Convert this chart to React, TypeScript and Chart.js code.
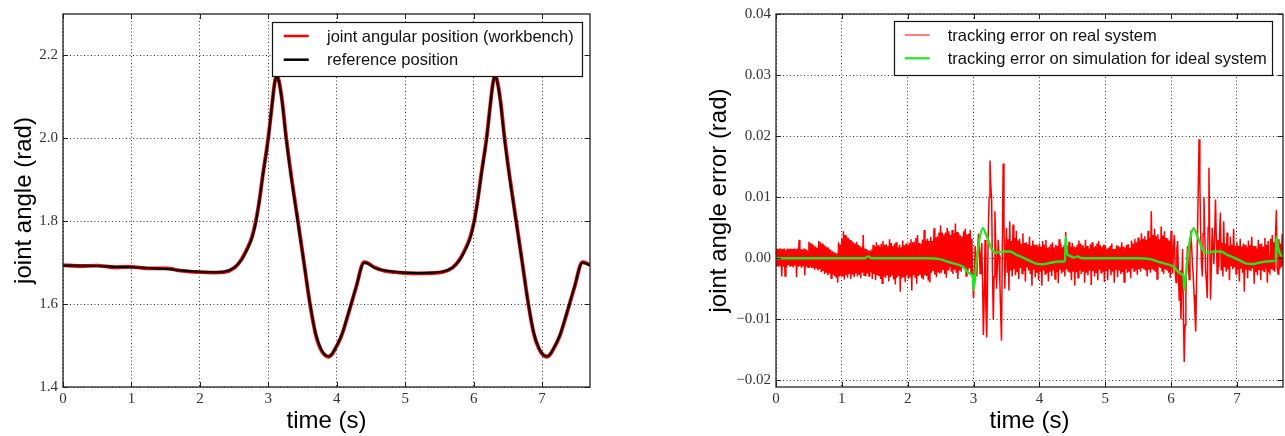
import React, { useEffect, useRef } from 'react';
import { Chart, registerables } from 'chart.js';

Chart.register(...registerables);

// ---------------- Left panel data: joint angle (rad) vs time (s) ----------------
const posTime = [
  0.0, 0.25, 0.5, 0.75, 1.0, 1.25, 1.5, 1.75, 2.0, 2.2, 2.35, 2.5, 2.6, 2.7, 2.76, 2.82, 2.87, 2.92, 3.0, 3.06,
  3.09, 3.12, 3.15, 3.2, 3.26, 3.34, 3.43, 3.52, 3.61, 3.69, 3.76, 3.82, 3.88, 3.93, 4.0, 4.07, 4.17, 4.28, 4.4, 4.45,
  4.55, 4.7, 4.85, 5.0, 5.2, 5.4, 5.54, 5.69, 5.79, 5.89, 5.95, 6.01, 6.06, 6.11, 6.19, 6.25, 6.28, 6.31, 6.34, 6.39,
  6.45, 6.53, 6.62, 6.71, 6.8, 6.88, 6.95, 7.01, 7.07, 7.12, 7.19, 7.26, 7.36, 7.47, 7.59, 7.64, 7.7,
];
const posReference = [
  1.693, 1.6925, 1.692, 1.69, 1.689, 1.687, 1.685, 1.681, 1.678, 1.677, 1.678, 1.688, 1.705, 1.735, 1.76, 1.8, 1.85, 1.91, 2.0, 2.09,
  2.13, 2.15, 2.14, 2.09, 2.0, 1.9, 1.8, 1.7, 1.6, 1.53, 1.495, 1.479, 1.474, 1.48, 1.5, 1.525, 1.578, 1.64, 1.7, 1.698,
  1.688, 1.681, 1.678, 1.676, 1.675, 1.676, 1.678, 1.688, 1.705, 1.735, 1.76, 1.8, 1.85, 1.91, 2.0, 2.09, 2.13, 2.15, 2.14, 2.09,
  2.0, 1.9, 1.8, 1.7, 1.6, 1.53, 1.495, 1.479, 1.474, 1.48, 1.5, 1.525, 1.578, 1.64, 1.7, 1.698, 1.693,
];
const posWorkbench = [
  1.694, 1.692, 1.693, 1.689, 1.69, 1.686, 1.686, 1.68, 1.677, 1.676, 1.677, 1.687, 1.706, 1.737, 1.761, 1.802, 1.851, 1.912, 2.002, 2.089,
  2.131, 2.151, 2.142, 2.093, 2.004, 1.903, 1.803, 1.701, 1.599, 1.528, 1.493, 1.478, 1.473, 1.479, 1.499, 1.524, 1.577, 1.639, 1.701, 1.699,
  1.689, 1.68, 1.677, 1.675, 1.674, 1.675, 1.677, 1.688, 1.706, 1.737, 1.762, 1.802, 1.852, 1.912, 2.002, 2.091, 2.131, 2.151, 2.142, 2.093,
  2.004, 1.903, 1.802, 1.701, 1.599, 1.528, 1.494, 1.478, 1.473, 1.479, 1.499, 1.524, 1.577, 1.639, 1.701, 1.699, 1.694,
];

// ---------------- Right panel data: tracking errors ----------------
const realErrorStep = 0.0125; // sampling period of the listed samples (s)
// tracking error on real system, in mrad (1e-3 rad), one row = 0.25 s
const realErrorMrad = [
  1.6, -1.3, 1.5, -1.4, 1.6, -1.2, 1.6, -3.0, 1.5, -1.4, 1.6, -2.9, 1.4, -1.5, 1.6, -1.1, 1.5, -1.4, 1.6, -1.3,
  1.5, -1.5, 1.6, -1.2, 1.5, -3.1, 1.6, -1.4, 3.0, -1.3, 1.5, -1.6, 1.4, -1.2, 1.6, -2.8, 1.5, -1.4, 1.3, -1.5,
  2.7, -1.4, 2.5, -1.6, 2.3, -1.5, 2.1, -1.9, 1.9, -1.7, 1.7, -2.0, 2.8, -1.8, 2.6, -2.3, 2.4, -2.1, 2.2, -2.6,
  2.0, -2.4, 1.8, -2.8, 1.6, -2.5, 1.4, -3.3, 1.2, -2.7, 1.0, -2.9, 0.9, -3.1, 0.8, -4.0, 2.6, -3.0, 2.3, -2.8,
  3.2, -3.0, 4.4, -3.5, 3.8, -2.8, 3.5, -3.2, 3.3, -2.6, 3.0, -3.4, 2.8, -2.7, 2.6, -3.1, 2.4, -2.5, 2.7, -3.0,
  2.2, -2.6, 2.0, -3.3, 1.8, -2.4, 3.8, -2.8, 1.6, -3.0, 1.5, -2.5, 1.3, -2.9, 1.2, -2.3, 1.4, -3.4, 2.2, -2.6,
  1.9, -3.6, 2.6, -2.8, 2.1, -2.9, 1.9, -3.4, 2.4, -4.1, 2.8, -3.0, 2.2, -3.2, 2.3, -2.7, 2.0, -3.8, 3.1, -3.1,
  2.5, -2.7, 2.0, -3.5, 2.4, -4.3, 2.6, -3.2, 1.8, -2.9, 2.2, -5.5, 1.8, -3.3, 2.9, -3.1, 2.1, -3.9, 2.4, -2.8,
  2.2, -3.4, 2.5, -3.0, 3.1, -5.3, 2.6, -2.8, 2.7, -3.1, 3.3, -4.2, 3.8, -2.9, 2.5, -2.6, 2.4, -3.3, 3.0, -3.5,
  4.6, -2.8, 2.9, -2.9, 3.2, -3.7, 2.8, -4.0, 3.5, -2.4, 2.8, -2.1, 4.9, -2.7, 3.4, -3.1, 3.6, -2.2, 4.2, -2.5,
  5.4, -2.4, 4.2, -1.8, 3.9, -2.6, 4.2, -3.2, 5.0, -1.9, 4.4, -1.5, 3.8, -2.2, 4.6, -2.6, 4.1, -1.9, 5.7, -2.4,
  4.3, -3.4, 4.1, -2.0, 3.7, -2.2, 3.5, -1.6, 4.4, -1.8, 4.8, -2.9, 3.9, -2.1, 4.0, -1.7, 4.6, -2.5, 3.2, -3.5,
  -6.5, -3.0, 2.0, -1.5, -3.0, 1.0, 4.0, 1.5, -2.5, 0.5, 2.5, -4.0, -12.6, -6.0, 3.0, -8.0, -13.0, -4.0, 5.0, 10.0,
  16.0, 12.0, 9.5, -2.0, -10.0, -3.0, 7.7, 2.0, -5.0, -1.0, 3.0, 0.5, -4.0, -9.0, -13.5, 2.0, 15.5, 6.0, -5.0, 1.0,
  5.0, -2.4, 3.1, -5.3, 6.0, -2.0, 2.8, -3.0, 5.5, -1.8, 3.3, -2.8, 4.5, -2.2, 2.9, -3.4, 3.2, -1.6, 2.4, -2.5,
  4.1, -2.1, 2.5, -3.8, 2.6, -1.4, 2.3, -2.0, 3.5, -2.6, 2.0, -4.5, 2.9, -1.9, 2.2, -3.1, 2.2, -2.4, 1.9, -3.6,
  2.4, -2.2, 1.9, -4.5, 2.8, -2.0, 2.2, -2.6, 3.0, -2.4, 1.7, -3.8, 1.9, -2.1, 2.3, -2.9, 2.6, -2.0, 1.8, -3.4,
  2.2, -2.3, 2.0, -4.1, 3.1, -1.9, 2.4, -2.5, 1.8, -2.2, 2.1, -3.0, 4.3, -1.8, 2.0, -2.2, 2.7, -2.4, 1.9, -3.6,
  2.5, -2.1, 1.9, -4.5, 1.8, -2.3, 2.2, -3.2, 2.9, -2.0, 2.4, -2.6, 2.1, -2.2, 1.7, -4.0, 3.0, -2.4, 2.0, -2.8,
  1.6, -2.0, 2.3, -4.4, 2.6, -2.1, 1.8, -3.0, 2.0, -2.3, 2.4, -3.6, 2.8, -1.9, 2.1, -2.4, 1.9, -2.2, 2.2, -3.9,
  2.2, -2.0, 1.6, -3.6, 1.7, -1.8, 2.0, -2.8, 2.4, -2.2, 1.5, -4.0, 1.5, -1.9, 2.1, -3.1, 2.0, -2.0, 1.8, -2.6,
  2.6, -2.3, 1.9, -3.9, 1.8, -1.8, 2.2, -2.4, 2.3, -2.1, 1.7, -3.3, 2.9, -1.7, 2.4, -2.1, 3.2, -1.9, 2.6, -2.7,
  3.4, -1.8, 2.9, -2.2, 4.1, -1.6, 3.2, -1.8, 3.6, -2.0, 3.0, -3.0, 4.5, -1.9, 3.4, -2.4, 7.7, -1.7, 3.8, -2.0,
  4.8, -2.2, 3.6, -3.4, 3.9, -1.5, 3.1, -1.6, 5.2, -2.1, 3.7, -2.6, 4.4, -1.8, 3.3, -2.0, 3.1, -2.4, 2.9, -3.2,
  4.5, -1.5, -2.5, 2.0, 3.8, -2.0, -4.0, 1.5, 2.8, -3.0, -7.0, -2.0, -10.0, -4.0, 1.5, -9.0, -17.0, -11.0, -6.0, -1.0,
  2.0, -1.0, -3.5, 1.0, 4.5, 2.0, -1.0, -3.0, -6.0, -9.0, -12.0, -4.0, 3.0, 11.0, 19.5, 12.0, 4.0, -1.0, -3.0, 4.0,
  10.0, 4.0, -2.0, -4.0, -6.5, 5.0, 14.8, 3.0, -6.8, -1.0, 5.0, 2.0, -1.0, 4.0, 9.6, 3.0, -2.5, 3.0, -1.5, 4.0,
  7.5, -2.0, 2.5, -3.0, 6.0, -1.5, 2.4, -2.2, 4.2, -1.8, 2.0, -3.6, 3.5, -1.2, 2.2, -1.8, 4.8, -1.5, 2.0, -2.6,
  2.6, -1.8, 2.0, -3.8, 3.2, -1.6, 1.9, -2.4, 2.4, -5.5, 2.2, -1.9, 1.8, -3.3, 2.9, -2.0, 2.1, -2.1, 3.5, -1.7,
  2.0, -4.2, 2.0, -2.3, 1.6, -2.8, 3.0, -1.8, 2.3, -3.6, 2.4, -2.0, 1.9, -2.2, 3.3, -1.6, 2.2, -4.0, 2.8, -2.1,
  -2.4, 3.2, -1.8, 3.8, -1.9, 2.6, -2.2, 4.2, 7.9, -1.6, -2.6, 3.1, -1.8, 2.4, -1.5, 4.0, -1.2,
];
// tracking error on simulation for ideal system (time in s, error in mrad)
const simTime = [
  0.0, 1.35, 1.4, 1.45, 2.3, 2.5, 2.64, 2.84, 2.94, 2.99, 3.0, 3.04, 3.08, 3.14, 3.21, 3.28, 3.34, 3.45, 3.55, 3.66,
  3.75, 3.85, 3.95, 4.05, 4.15, 4.3, 4.39, 4.4, 4.42, 4.46, 4.52, 4.58, 4.64, 5.5, 5.7, 5.84, 6.04, 6.14, 6.19, 6.2,
  6.24, 6.28, 6.34, 6.41, 6.48, 6.54, 6.65, 6.75, 6.86, 6.95, 7.05, 7.15, 7.25, 7.35, 7.5, 7.59, 7.6, 7.62, 7.66, 7.7,
];
const simErrorMrad = [
  0.0, 0.0, 0.3, 0.0, 0.0, -0.2, -0.7, -1.4, -2.5, -3.0, -5.2, -1.0, 2.5, 4.9, 3.3, 1.4, 0.9, 1.1, 1.1, 0.5,
  0.1, -0.4, -0.9, -1.0, -0.8, -0.55, -0.5, 3.5, 0.8, 0.4, 0.1, 0.3, 0.0, 0.0, -0.2, -0.7, -1.4, -2.5, -3.0, -5.2,
  -1.0, 2.5, 4.9, 3.3, 1.4, 0.9, 1.1, 1.1, 0.5, 0.1, -0.4, -0.9, -0.95, -0.7, -0.5, -0.45, 3.5, 2.0, 0.6, 0.3,
];

// ---------------- Axes ----------------
const xTicks = [0, 1, 2, 3, 4, 5, 6, 7];
const yTicksLeft = [1.4, 1.6, 1.8, 2.0, 2.2];
const yTicksRight = [-0.02, -0.01, 0.0, 0.01, 0.02, 0.03, 0.04];

const SANS = '"Liberation Sans", Arial, Helvetica, sans-serif';
const SERIF = '"Liberation Serif", "DejaVu Serif", serif';

const framePlugin = {
  id: 'frame',
  afterDatasetsDraw(chart: any) {
    const { ctx, chartArea: a, scales } = chart;
    const L = 5;
    ctx.save();
    ctx.strokeStyle = '#222';
    ctx.lineWidth = 1;
    ctx.beginPath();
    scales.x.ticks.forEach((t: any) => {
      const px = Math.round(scales.x.getPixelForValue(t.value)) + 0.5;
      ctx.moveTo(px, a.bottom);
      ctx.lineTo(px, a.bottom - L);
      ctx.moveTo(px, a.top);
      ctx.lineTo(px, a.top + L);
    });
    scales.y.ticks.forEach((t: any) => {
      const py = Math.round(scales.y.getPixelForValue(t.value)) + 0.5;
      ctx.moveTo(a.left, py);
      ctx.lineTo(a.left + L, py);
      ctx.moveTo(a.right, py);
      ctx.lineTo(a.right - L, py);
    });
    ctx.stroke();
    ctx.lineWidth = 1.3;
    ctx.strokeRect(a.left, a.top, a.right - a.left, a.bottom - a.top);
    ctx.restore();
  },
};

const boxLegend = {
  id: 'boxLegend',
  afterDraw(chart: any, _args: any, opts: any) {
    const { ctx, chartArea: a } = chart;
    const ds = chart.data.datasets;
    ctx.save();
    ctx.font = `${opts.fontSize}px ${SANS}`;
    const tw = Math.max(...ds.map((d: any) => ctx.measureText(d.label).width));
    const w = Math.round(opts.textOffset + tw + opts.padRight);
    const h = opts.height;
    const x = Math.round(a.right - opts.right - w);
    const y = Math.round(a.top + opts.top);
    ctx.fillStyle = '#fff';
    ctx.fillRect(x, y, w, h);
    ctx.strokeStyle = '#111';
    ctx.lineWidth = 1.2;
    ctx.strokeRect(x + 0.5, y + 0.5, w, h);
    ds.forEach((d: any, i: number) => {
      const yy = y + opts.firstRow + i * opts.rowGap;
      ctx.strokeStyle = d.borderColor;
      ctx.lineWidth = opts.lineWidths[i];
      ctx.beginPath();
      ctx.moveTo(x + opts.lineStart, yy);
      ctx.lineTo(x + opts.lineStart + 25, yy);
      ctx.stroke();
      ctx.fillStyle = '#111';
      ctx.textBaseline = 'middle';
      ctx.textAlign = 'left';
      ctx.fillText(d.label, x + opts.textOffset, yy + 1);
    });
    ctx.restore();
  },
};

function axes(yTicks: number[], yMin: number, yMax: number, yWidth: number, yLabel: string, yFmt: (v: number) => string, yTitlePad: number) {
  const gridCommon = { color: '#333', lineWidth: 1, drawTicks: false };
  const borderCommon = { display: false, dash: [1, 2.5] };
  return {
    x: {
      type: 'linear',
      min: 0,
      max: 7.7,
      afterBuildTicks: (s: any) => {
        s.ticks = xTicks.map((v) => ({ value: v }));
      },
      afterFit: (s: any) => {
        s.height = 49;
      },
      grid: gridCommon,
      border: borderCommon,
      ticks: {
        color: '#333',
        padding: 3,
        maxRotation: 0,
        font: { family: SERIF, size: 15 },
        callback: (v: number) => String(v),
      },
      title: {
        display: true,
        text: 'time (s)',
        color: '#000',
        font: { family: SANS, size: 24 },
        padding: { top: 0, bottom: 0.5 },
      },
    },
    y: {
      type: 'linear',
      min: yMin,
      max: yMax,
      afterBuildTicks: (s: any) => {
        s.ticks = yTicks.map((v) => ({ value: v }));
      },
      afterFit: (s: any) => {
        s.width = yWidth;
      },
      grid: gridCommon,
      border: borderCommon,
      ticks: {
        color: '#333',
        padding: 5,
        font: { family: SERIF, size: 15 },
        callback: (v: number) => yFmt(v),
      },
      title: {
        display: true,
        text: yLabel,
        color: '#000',
        font: { family: SANS, size: 24 },
        padding: { top: yTitlePad, bottom: 0 },
      },
    },
  };
}

function leftConfig(): any {
  return {
    type: 'line',
    data: {
      datasets: [
        {
          label: 'joint angular position (workbench)',
          data: posTime.map((t, i) => ({ x: t, y: posWorkbench[i] })),
          borderColor: '#ff0000',
          borderWidth: 3.8,
          pointRadius: 0,
          order: 1,
          cubicInterpolationMode: 'monotone',
        },
        {
          label: 'reference position',
          data: posTime.map((t, i) => ({ x: t, y: posReference[i] })),
          borderColor: '#000000',
          borderWidth: 2.2,
          pointRadius: 0,
          order: 0,
          cubicInterpolationMode: 'monotone',
        },
      ],
    },
    options: {
      responsive: false,
      animation: false,
      layout: { padding: { left: 0, top: 7, right: 10, bottom: 0 } },
      plugins: {
        legend: { display: false },
        tooltip: { enabled: false },
        boxLegend: {
          fontSize: 16.5,
          right: 8.3,
          top: 8,
          textOffset: 55,
          padRight: 8.7,
          lineStart: 11.7,
          firstRow: 14,
          rowGap: 23.7,
          height: 54,
          lineWidths: [2.5, 2.5],
        },
      },
      scales: axes(yTicksLeft, 1.4, 2.3, 63, 'joint angle (rad)', (v) => v.toFixed(1), 10),
    },
    plugins: [framePlugin, boxLegend],
  };
}

function rightConfig(): any {
  return {
    type: 'line',
    data: {
      datasets: [
        {
          label: 'tracking error on real system',
          data: realErrorMrad.map((v, i) => ({ x: i * realErrorStep, y: v / 1000 })),
          borderColor: '#ff0000',
          borderWidth: 1.5,
          pointRadius: 0,
          order: 1,
          tension: 0,
        },
        {
          label: 'tracking error on simulation for ideal system',
          data: simTime.map((t, i) => ({ x: t, y: simErrorMrad[i] / 1000 })),
          borderColor: '#20e620',
          borderWidth: 2.4,
          pointRadius: 0,
          order: 0,
          cubicInterpolationMode: 'monotone',
        },
      ],
    },
    options: {
      responsive: false,
      animation: false,
      layout: { padding: { left: 0, top: 14, right: 2, bottom: 0 } },
      plugins: {
        legend: { display: false },
        tooltip: { enabled: false },
        boxLegend: {
          fontSize: 16.5,
          right: 11.3,
          top: 7.4,
          textOffset: 53.7,
          padRight: 5,
          lineStart: 10.7,
          firstRow: 14,
          rowGap: 23.3,
          height: 54,
          lineWidths: [1, 2.2],
        },
      },
      scales: axes(
        yTicksRight,
        -0.0211,
        0.04,
        86,
        'joint angle error (rad)',
        (v) => (v < 0 ? '\u2212' : '') + Math.abs(v).toFixed(2),
        14.5
      ),
    },
    plugins: [framePlugin, boxLegend],
  };
}

function Panel({ left, width, makeConfig }: { left: number; width: number; makeConfig: () => any }) {
  const ref = useRef<HTMLCanvasElement | null>(null);
  useEffect(() => {
    if (!ref.current) return;
    const chart = new Chart(ref.current, makeConfig());
    return () => chart.destroy();
  }, [makeConfig]);
  return (
    <canvas
      ref={ref}
      width={width}
      height={436}
      style={{ position: 'absolute', left, top: 0, width, height: 436 }}
    />
  );
}

export default function App() {
  return (
    <div style={{ position: 'absolute', left: 0, top: 0, width: 1285, height: 436, background: '#fff' }}>
      <Panel left={0} width={600} makeConfig={leftConfig} />
      <Panel left={690} width={595} makeConfig={rightConfig} />
    </div>
  );
}
